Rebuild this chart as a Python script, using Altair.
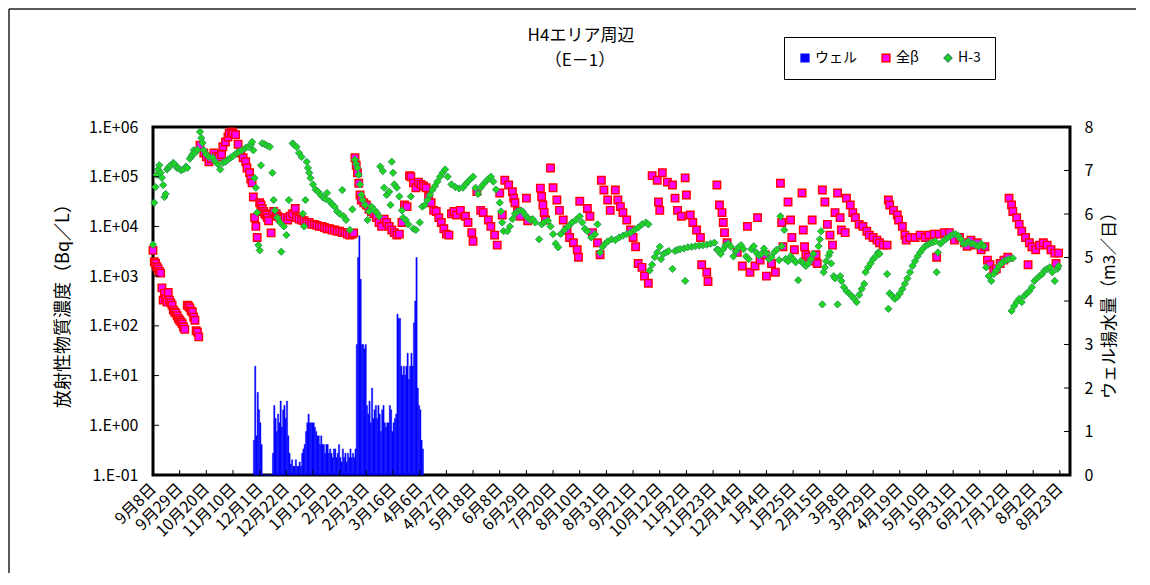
import altair as alt
import pandas as pd

START = pd.Timestamp("2013-09-08")

# (days after 2013-09-08, Bq/L)
beta_obs = [
    (0, 3300), (1, 1950), (2, 1800), (3, 1550), (4, 1400), (5, 1250), (6, 1150), (7, 580), (8, 330), (9, 450),
    (10, 360), (11, 300), (12, 470), (13, 330), (14, 290), (15, 260), (16, 210), (17, 190), (18, 180), (19, 160),
    (20, 140), (21, 130), (22, 120), (23, 110), (24, 95), (25, 85), (27, 260), (28, 250), (29, 230), (30, 200),
    (31, 190), (32, 150), (33, 130), (34, 80), (35, 75), (36, 60),
    (37, 4.3e5), (40, 3e5), (42, 2.5e5), (44, 2e5), (46, 2.3e5), (48, 3e5), (50, 2.6e5), (52, 2.5e5), (54, 2.8e5),
    (55, 4e5), (57, 5e5), (59, 6.3e5), (60, 7.5e5), (62, 8e5), (63, 7.5e5), (65, 7e5), (67, 4.5e5), (69, 3e5),
    (71, 2.4e5), (73, 2e5), (74, 1.5e5), (76, 1.2e5), (77, 9e4), (78, 7.5e4),
    (79, 3.9e4), (80, 1.5e4), (81, 1e4), (82, 6e3), (84, 3e4), (85, 2.7e4), (86, 2.3e4), (87, 2e4), (88, 1.8e4),
    (89, 1.7e4), (90, 1.5e4), (91, 1.3e4), (93, 7.4e3), (95, 2e4), (97, 1.8e4), (98, 1.6e4), (100, 1.5e4),
    (102, 1.4e4), (104, 1.5e4), (106, 1.35e4), (108, 1.6e4), (110, 1.8e4), (112, 2.3e4), (113, 1.5e4), (115, 1.4e4),
    (117, 1.35e4), (119, 1.3e4), (121, 1.2e4), (123, 1.2e4), (125, 1.1e4), (127, 1.1e4), (129, 1.05e4), (131, 1e4),
    (133, 1e4), (135, 9.5e3), (137, 9e3), (139, 9e3), (141, 8.5e3), (143, 8.5e3), (145, 8e3), (147, 8e3),
    (149, 7.5e3), (151, 7.5e3), (153, 7e3), (155, 6.7e3), (157, 7e3), (158, 7.4e3),
    (159, 2.4e5), (160, 1.7e5), (161, 1.2e5), (162, 7.4e4), (163, 4.3e4), (164, 3.4e4), (166, 3e4), (168, 2.7e4),
    (170, 2.2e4), (172, 2e4), (174, 1.8e4), (176, 1.5e4), (178, 1.2e4), (180, 1e4), (182, 1.4e4), (184, 1.2e4),
    (186, 1e4), (188, 8.5e3), (190, 7.5e3), (192, 6.7e3), (194, 7e3), (196, 1.2e4), (198, 2.7e4), (200, 2.5e4),
    (202, 1.05e5), (203, 1e5), (205, 7.5e4), (207, 6e4), (209, 7.8e4), (211, 7e4), (213, 6.5e4), (215, 6e4),
    (217, 4e4), (219, 3e4), (221, 2.1e4), (223, 2e4), (225, 1.5e4), (227, 1.2e4), (229, 9e3), (231, 7e3),
    (233, 6.7e3), (235, 1.8e4), (237, 2e4), (239, 1.7e4),
    (242, 2.1e4), (246, 1.6e4), (248, 1.2e4), (251, 7.5e3), (252, 5e3), (255, 5e4), (258, 2.1e4), (260, 1.9e4),
    (264, 1.35e4), (266, 1e4), (269, 6.7e3), (271, 4.2e3), (273, 4.7e4), (275, 1.7e4), (277, 8.5e4), (280, 6.8e4),
    (283, 5e4), (284, 3.7e4), (285, 3e4), (287, 2e4), (289, 1.6e4), (294, 3.7e4), (295, 1.3e4), (305, 5.9e4),
    (306, 4e4), (307, 2.7e4), (308, 1.9e4), (309, 1.35e4), (313, 1.5e5), (315, 6e4), (318, 3.4e4), (320, 2.1e4),
    (323, 1.35e4), (326, 8.5e3), (328, 6e3), (331, 4.7e3), (334, 3.4e3), (335, 2.4e3), (336, 3.2e4), (342, 2.3e4),
    (344, 1.6e4), (346, 7.5e3), (350, 4.7e3), (352, 2.7e3), (353, 8.5e4), (355, 5.4e4), (358, 3.4e4), (360, 2.1e4),
    (364, 5.4e4), (366, 3.4e4), (368, 2.5e4), (370, 1.9e4), (373, 1.35e4), (376, 8.5e3), (378, 6e3), (380, 3.9e3),
    (382, 1.8e3), (385, 1.5e3), (387, 1e3), (390, 720), (393, 1.05e5), (397, 8.5e4), (398, 3.1e4), (399, 2.1e4),
    (401, 1.2e5), (405, 7.8e4), (409, 6.8e4), (411, 3.7e4), (413, 2.1e4), (416, 1.6e4), (419, 9.5e4), (420, 4.3e4),
    (423, 1.7e4), (425, 1.2e4), (428, 8.5e3), (431, 6e3), (432, 1.7e3), (436, 1.2e3), (437, 780), (444, 6.8e4),
    (446, 2.7e4), (448, 1.9e4), (449, 1.2e4), (450, 7.5e3), (452, 4.7e3), (460, 3e3), (464, 1.6e3), (468, 1e4),
    (470, 1.2e3), (474, 1.6e3), (476, 1.5e4), (478, 2.1e3), (482, 2.7e3), (483, 1e3), (487, 1.8e3), (490, 1.2e3),
    (494, 7.4e4), (495, 1.2e4), (496, 3.9e3), (500, 3.1e4),
    (502, 1.35e4), (503, 6e3), (505, 3.4e3), (511, 4.7e4), (512, 8.5e3), (513, 3.9e3), (514, 2.7e3), (516, 2.4e3),
    (518, 2e3), (519, 1.35e4), (522, 2.7e3), (523, 1.8e3), (527, 5.4e4), (529, 3.1e4), (531, 1.1e4), (533, 6.7e3),
    (535, 4.2e3), (537, 1.9e4), (539, 4.7e4), (541, 1.5e4), (542, 8.5e3), (545, 7.5e3), (546, 3.7e4), (549, 2.7e4),
    (551, 1.9e4), (553, 1.5e4), (556, 1.1e4), (559, 1e4), (562, 8e3), (564, 6.7e3), (567, 6e3), (570, 5.3e3),
    (572, 4.7e3), (575, 4.2e3), (578, 4.2e3), (579, 3.4e4), (580, 2.7e4), (583, 2.1e4), (586, 1.7e4), (587, 1.35e4),
    (590, 1e4), (592, 6.7e3), (593, 5.3e3), (596, 6e3), (600, 6e3), (604, 6.7e3), (608, 6e3), (611, 6.7e3),
    (615, 7e3), (617, 2.4e3), (619, 7e3), (623, 7.5e3), (627, 7.5e3), (631, 5.3e3), (635, 6e3), (639, 4.7e3),
    (641, 4e3), (644, 5.3e3), (647, 4.2e3), (649, 4.7e3), (652, 3.4e3), (655, 3.9e3), (657, 2.1e3), (659, 1.7e3),
    (662, 1.3e3), (664, 1.4e3), (667, 1.8e3), (670, 2.1e3), (673, 2.4e3), (674, 3.7e4), (676, 2.7e4), (677, 2e4),
    (680, 1.5e4), (682, 1.1e4), (684, 8e3), (687, 6e3), (689, 1.7e3), (690, 4.7e3), (692, 3.9e3), (695, 3.4e3),
    (698, 4.2e3), (701, 4.7e3), (704, 4.2e3), (707, 3.4e3), (710, 2.9e3), (711, 1.8e3), (713, 2.9e3),
]

h3_obs = [
    (0, 4300), (1, 3e4), (2, 6.2e4), (3, 1.1e5), (4, 1.4e5), (5, 1.7e5), (6, 1.2e5), (7, 9.5e4), (8, 6.8e4),
    (9, 3.9e4), (10, 4.5e4), (11, 1.4e5), (12, 1.5e5), (13, 1.6e5), (14, 1.7e5), (16, 1.9e5), (17, 1.8e5),
    (19, 1.5e5), (20, 1.5e5), (22, 1.35e5), (24, 1.4e5), (26, 1.6e5), (27, 1.5e5), (29, 2.3e5), (30, 2.5e5),
    (31, 2.8e5), (32, 3.4e5), (33, 3e5), (35, 3.5e5), (37, 8e5), (38, 6e5), (39, 4.8e5), (40, 3.4e5), (42, 2.8e5),
    (44, 2.5e5), (47, 2.4e5), (49, 2e5), (51, 1.8e5), (53, 1.4e5), (55, 1.9e5), (57, 2e5), (59, 2.2e5), (61, 2.4e5),
    (63, 2.6e5), (66, 3e5), (68, 3.2e5), (70, 3.4e5), (73, 3.8e5), (75, 4e5), (77, 4.4e5), (78, 5e5), (79, 3.4e5),
    (80, 9.4e4), (81, 6e4), (82, 1.9e4), (83, 4.2e3), (84, 3.3e3), (85, 1.7e5), (86, 4.7e5), (88, 4.5e5),
    (90, 4.2e5), (92, 4e5), (94, 1.2e5), (95, 3.4e4), (96, 2.1e4), (98, 1.5e4), (100, 1.2e4), (101, 3.1e3),
    (103, 1e4), (105, 6.7e3), (107, 3.4e4), (110, 4.7e5), (111, 4.4e5), (113, 4e5), (115, 3e5), (117, 2.5e5),
    (118, 1.8e4), (119, 1e4), (120, 3.4e4), (121, 2e5), (122, 1.5e5), (123, 1.2e5), (124, 9.4e4), (126, 7e4),
    (128, 5.5e4), (130, 5e4), (132, 4.3e4), (134, 3.8e4), (136, 3.6e4), (137, 4.7e4), (139, 3.2e4), (141, 2.8e4),
    (143, 2.5e4), (145, 2e4), (147, 1.8e4), (149, 5.4e4), (150, 1.6e4), (152, 1.35e4), (155, 8.5e3), (157, 2.2e4),
    (159, 2.2e5), (160, 1.8e5), (161, 1.5e5), (162, 1.1e5), (163, 7e4), (164, 4.3e4), (165, 3.4e4), (167, 2.7e4),
    (169, 1.35e4), (170, 2e4), (172, 2.5e4), (174, 2.2e4), (176, 1.9e4), (178, 1.6e4), (179, 1.6e5), (181, 1.3e5),
    (182, 6e4), (184, 4.3e4), (186, 5e4), (187, 2.7e4), (188, 2e5), (189, 1.2e5), (190, 7e4), (192, 6e4),
    (194, 4e4), (196, 2.1e4), (197, 1.5e4), (199, 1.35e4), (201, 1.1e4), (203, 4e4), (205, 9e3), (207, 8.5e3),
    (210, 1.2e4), (212, 2.5e4), (214, 2.7e4), (216, 3.4e4), (218, 4.3e4), (220, 5.4e4), (222, 6.5e4), (224, 8e4),
    (226, 1e5), (228, 1.2e5), (230, 1.4e5), (232, 1e5), (235, 7e4), (238, 6.2e4), (241, 5.8e4), (244, 6e4),
    (246, 7e4), (248, 8e4), (250, 9e4), (252, 1e5), (254, 6e4), (256, 4.5e4), (258, 6e4), (260, 7e4), (262, 8e4),
    (264, 9e4), (266, 1e5), (268, 8e4), (270, 5.5e4), (273, 3e4), (274, 2e4), (275, 1.2e4), (276, 8e3), (279, 8e3),
    (281, 1e4), (283, 1.4e4), (285, 1.8e4), (287, 2e4), (289, 2.1e4), (291, 2e4), (293, 1.7e4), (295, 1.5e4),
    (297, 1.35e4), (299, 1.4e4), (301, 1.2e4), (304, 5.5e3), (306, 1.1e4), (308, 1.2e4), (311, 1.3e4), (313, 1e4),
    (315, 7e3), (317, 4.5e3), (319, 3.8e3), (321, 7e3), (324, 8.5e3), (327, 1e4), (330, 1.2e4), (333, 1.35e4),
    (336, 1.6e4), (338, 1.2e4), (340, 9e3), (342, 8e3), (345, 6e3), (348, 7e3), (350, 1.1e4), (352, 3e3),
    (354, 3.9e3), (356, 4.5e3), (358, 5e3), (361, 5.5e3), (364, 5.3e3), (367, 6e3), (370, 6.5e3), (373, 7e3),
    (376, 7.5e3), (379, 8.5e3), (382, 9.5e3), (385, 1.1e4), (388, 1.2e4), (390, 1.1e4), (391, 1.3e3), (393, 1.7e3),
    (395, 2.4e3), (397, 3e3), (399, 3.9e3), (400, 2.2e3), (402, 2.8e3), (404, 3e3), (406, 3.2e3), (409, 1.4e3),
    (411, 3.2e3), (413, 3.4e3), (415, 3.5e3), (418, 3.6e3), (419, 800), (421, 3.8e3), (424, 3.9e3), (427, 4e3),
    (430, 4.1e3), (433, 4.2e3), (436, 4.3e3), (439, 4.5e3), (442, 4.7e3), (444, 3.4e3), (445, 3.4e3), (447, 2.8e3),
    (449, 3.5e3), (451, 4.2e3), (453, 4.5e3), (455, 3.9e3), (457, 2.5e3), (459, 3.2e3), (461, 3.8e3), (463, 4.2e3),
    (465, 3.5e3), (467, 2.5e3), (469, 2.2e3), (471, 3.5e3), (473, 4e3), (475, 3e3), (477, 2.6e3), (479, 2.8e3),
    (481, 3.6e3), (483, 2.9e3), (485, 2.2e3), (487, 2.4e3), (489, 3e3), (491, 3.4e3), (493, 2.1e3), (494, 1.6e4),
    (495, 4e3), (497, 8.5e3), (498, 2.2e3), (500, 2e3), (502, 2.5e3), (504, 2.2e3), (506, 1.9e3), (508, 830),
    (510, 2e3), (512, 1.8e3), (514, 1.6e3), (516, 1.8e3), (518, 2.2e3), (520, 2.8e3), (524, 4e3), (525, 5.5e3),
    (526, 8e3), (527, 270), (528, 1.2e3), (529, 1.5e3), (530, 2e3), (532, 2.6e3), (533, 3e3), (534, 1.8e3),
    (536, 1e3), (537, 900), (539, 270), (541, 1e3), (542, 800), (544, 600), (546, 500), (548, 450), (550, 400),
    (552, 350), (554, 300), (556, 420), (558, 550), (560, 700), (561, 1.2e3), (563, 1.5e3), (565, 1.8e3),
    (567, 2.2e3), (569, 2.5e3), (571, 3e3), (572, 2.8e3), (578, 1.1e3), (579, 220), (580, 450), (582, 400),
    (584, 350), (586, 380), (588, 450), (590, 550), (592, 700), (594, 900), (596, 1.2e3), (598, 1.6e3), (600, 2e3),
    (602, 2.5e3), (604, 3e3), (606, 3.5e3), (608, 4e3), (610, 4.3e3), (612, 4.6e3), (614, 4.8e3), (616, 5e3),
    (617, 1.2e3), (618, 3e3), (620, 4.5e3), (622, 5e3), (624, 5.5e3), (626, 6e3), (628, 6.5e3), (630, 7e3),
    (632, 7e3), (634, 6.5e3), (636, 5.5e3), (638, 4.5e3), (640, 4.5e3), (642, 5e3), (644, 4.5e3), (646, 4.5e3),
    (648, 4.2e3), (650, 4e3), (652, 4.5e3), (654, 4e3), (656, 1.5e3), (658, 1e3), (660, 800), (662, 1.1e3),
    (664, 1.3e3), (666, 1.6e3), (668, 1.8e3), (670, 2e3), (672, 2.1e3), (674, 2.2e3), (676, 200), (677, 2.3e3),
    (678, 250), (680, 300), (682, 350), (684, 300), (686, 400), (688, 450), (690, 500), (692, 600), (694, 800),
    (696, 900), (698, 1e3), (700, 1.1e3), (702, 1.3e3), (704, 1.4e3), (706, 1.5e3), (708, 1.2e3), (710, 800),
    (712, 1.4e3), (713, 1.6e3),
]

# daily well pumping volume (m3/day), one value per day from 2013-11-26
well_first_date = "2013-11-26"
well_val = [
    0.8, 2.5, 0.9, 1.9, 1.5, 1.2, 0.7, 0, 0, 0, 0, 0, 0, 0, 0, 0.5, 1.6, 1.3, 1.0, 1.4, 1.2, 1.7, 1.1, 1.5, 1.6,
    1.3, 1.7, 0.9, 0.5, 0.25, 0.35, 0.2, 0.2, 0.35, 0.2, 0.2, 0.3, 0.2, 0.5, 0.6, 0.7, 1.0, 1.2, 1.4, 1.2, 1.2,
    1.2, 1.2, 1.1, 1.0, 0.9, 0.9, 0.7, 0.9, 0.7, 0.7, 0.5, 0.7, 0.7, 0.5, 0.6, 0.5, 0.4, 0.6, 0.6, 0.4, 0.5, 0.7,
    0.4, 0.3, 0.6, 0.4, 0.5, 0.3, 0.5, 0.4, 0.6, 0.4, 0.5, 0.4, 0.6, 3.0, 5.0, 5.5, 4.5, 3.0, 3.0, 2.9, 3.0, 1.6,
    1.4, 1.7, 1.2, 2.0, 1.3, 1.5, 1.6, 1.3, 1.6, 1.4, 1.0, 1.5, 1.6, 1.2, 1.1, 1.2, 1.2, 1.6, 1.5, 1.0, 1.2, 1.3,
    1.4, 3.7, 3.6, 3.6, 2.5, 2.3, 2.5, 2.3, 2.5, 2.8, 2.2, 2.5, 2.8, 2.5, 3.5, 4.0, 5.0, 2.0, 1.6, 1.5, 0.8, 0.6,
]

x_tick_dates = [
    "2013-09-08", "2013-09-29", "2013-10-20", "2013-11-10", "2013-12-01", "2013-12-22", "2014-01-12",
    "2014-02-02", "2014-02-23", "2014-03-16", "2014-04-06", "2014-04-27", "2014-05-18", "2014-06-08",
    "2014-06-29", "2014-07-20", "2014-08-10", "2014-08-31", "2014-09-21", "2014-10-12", "2014-11-02",
    "2014-11-23", "2014-12-14", "2015-01-04", "2015-01-25", "2015-02-15", "2015-03-08", "2015-03-29",
    "2015-04-19", "2015-05-10", "2015-05-31", "2015-06-21", "2015-07-12", "2015-08-02", "2015-08-23",
]
x_domain = ["2013-09-08", "2015-08-31"]
left_ticks = [0.1, 1, 10, 100, 1e3, 1e4, 1e5, 1e6]
right_ticks = [0, 1, 2, 3, 4, 5, 6, 7, 8]

title_lines = ["H4エリア周辺", "（E－1）"]
series_names = ["ウェル", "全β", "H-3"]
series_fill = ["#0000FF", "#FF00FF", "#1ED61E"]
series_stroke = ["#0000FF", "#FF0000", "#2E9A5C"]
series_shape = ["square", "square", "diamond"]

FONT = "Noto Sans CJK JP"
W, H = 917, 348
PAD_R = 66


def ms(d):
    return int(pd.Timestamp(d, tz="UTC").timestamp() * 1000)


def day_str(d):
    return (START + pd.Timedelta(days=d)).strftime("%Y-%m-%d")


beta_df = pd.DataFrame({"date": [day_str(d) for d, _ in beta_obs],
                        "value": [v for _, v in beta_obs], "series": "全β"})
h3_df = pd.DataFrame({"date": [day_str(d) for d, _ in h3_obs],
                      "value": [v for _, v in h3_obs], "series": "H-3"})
wdates = [pd.Timestamp(well_first_date) + pd.Timedelta(days=i) for i in range(len(well_val))]
well_df = pd.DataFrame({"date": [d.strftime("%Y-%m-%d") for d in wdates],
                        "date2": [(d + pd.Timedelta(days=1)).strftime("%Y-%m-%d") for d in wdates],
                        "value": well_val, "series": "ウェル"})
xt_df = pd.DataFrame({"date": x_tick_dates})
lt_df = pd.DataFrame({"value": left_ticks})
rt_df = pd.DataFrame({"value": right_ticks})
one_df = pd.DataFrame({"k": [0]})

xscale = alt.Scale(type="utc", domain=[ms(x_domain[0]), ms(x_domain[1])], nice=False)


def lscale():
    return alt.Scale(type="log", domain=[0.1, 1e6], nice=False)


def rscale():
    return alt.Scale(type="linear", domain=[0, 8], nice=False)


legend = alt.Legend(
    title=None, orient="none", legendX=631, legendY=-90, direction="horizontal", columns=3,
    strokeColor="black", fillColor="white", padding=14, columnPadding=22, labelOffset=3,
    labelFont=FONT, labelFontSize=14, labelColor="black", symbolSize=60, symbolStrokeWidth=1.5,
)
fill_enc = alt.Fill("series:N", scale=alt.Scale(domain=series_names, range=series_fill), legend=legend)
stroke_enc = alt.Stroke("series:N", scale=alt.Scale(domain=series_names, range=series_stroke), legend=legend)
shape_enc = alt.Shape("series:N", scale=alt.Scale(domain=series_names, range=series_shape), legend=legend)

x_axis = alt.Axis(
    values=[ms(d) for d in x_tick_dates], grid=False, ticks=False, domain=False,
    labelExpr="(utcmonth(datum.value)+1) + '月' + utcdate(datum.value) + '日'",
    labelAngle=315, labelAlign="right", labelBaseline="middle", labelPadding=11,
    labelFont=FONT, labelFontSize=16, labelColor="black", labelOverlap=False,
    title=None,
)
left_axis = alt.Axis(
    orient="left", values=left_ticks, grid=False, ticks=False, domain=False,
    labelExpr="'1.E' + (datum.value >= 1 ? '+' : '-') + '0' + abs(round(log(datum.value)/LN10))",
    labelFont=FONT, labelFontSize=16, labelColor="black", labelPadding=15,
    title="放射性物質濃度（Bq／L）", titleFont=FONT, titleFontSize=18, titleFontWeight="normal",
    titleColor="black", titlePadding=16,
)
right_axis = alt.Axis(
    orient="right", values=right_ticks, grid=False, ticks=False, domain=False, format="d",
    labelFont=FONT, labelFontSize=16, labelColor="black", labelPadding=14,
    title="ウェル揚水量（m3／日）", titleFont=FONT, titleFontSize=17, titleFontWeight="normal",
    titleColor="black", titlePadding=9, titleAngle=270, titleBaseline="top",
)

frame_v = alt.Chart(one_df).mark_rule(color="#222222", strokeWidth=1.5).encode(
    x=alt.value(-144), y=alt.value(-118), y2=alt.value(H + 98),
)
frame_h = alt.Chart(one_df).mark_rule(color="#222222", strokeWidth=1.5).encode(
    x=alt.value(-144), x2=alt.value(W + PAD_R), y=alt.value(-118),
)
t1 = alt.Chart(one_df).mark_text(text=title_lines[0], font=FONT, fontSize=17, color="black",
                                 align="center", baseline="middle").encode(
    x=alt.value(428), y=alt.value(-91))
t2 = alt.Chart(one_df).mark_text(text=title_lines[1], font=FONT, fontSize=17, color="black",
                                 align="center", baseline="middle").encode(
    x=alt.value(427), y=alt.value(-66))

bars = alt.Chart(well_df).mark_bar(strokeWidth=0.4).encode(
    x=alt.X("date:T", scale=xscale, axis=x_axis),
    x2="date2:T",
    y=alt.Y("value:Q", scale=rscale(), axis=right_axis),
    y2=alt.datum(0),
    fill=fill_enc, stroke=stroke_enc,
)
beta = alt.Chart(beta_df).mark_point(size=56, strokeWidth=1.4, opacity=1, fillOpacity=1).encode(
    x=alt.X("date:T", scale=xscale, axis=x_axis),
    y=alt.Y("value:Q", scale=lscale(), axis=left_axis),
    fill=fill_enc, stroke=stroke_enc, shape=shape_enc,
)
h3 = alt.Chart(h3_df).mark_point(size=52, strokeWidth=1, opacity=1, fillOpacity=1).encode(
    x=alt.X("date:T", scale=xscale, axis=x_axis),
    y=alt.Y("value:Q", scale=lscale(), axis=None),
    fill=fill_enc, stroke=stroke_enc, shape=shape_enc,
)
xticks = alt.Chart(xt_df).mark_rule(color="black", strokeWidth=1).encode(
    x=alt.X("date:T", scale=xscale, axis=x_axis), y=alt.value(H - 5), y2=alt.value(H),
)
lticks = alt.Chart(lt_df).mark_rule(color="black", strokeWidth=1).encode(
    y=alt.Y("value:Q", scale=lscale(), axis=None), x=alt.value(0), x2=alt.value(6),
)
rticks = alt.Chart(rt_df).mark_rule(color="black", strokeWidth=1).encode(
    y=alt.Y("value:Q", scale=rscale(), axis=None), x=alt.value(W - 6), x2=alt.value(W),
)

chart = alt.layer(
    frame_v, frame_h, t1, t2, bars, beta, h3, xticks, lticks, rticks
).resolve_scale(y="independent").properties(
    width=W, height=H,
    autosize=alt.AutoSizeParams(type="none"),
    padding={"left": 145, "top": 119, "right": PAD_R, "bottom": 98},
    background="white",
).configure_view(stroke="black", strokeWidth=3)

chart.save("out.html", embed_options={"renderer": "svg", "actions": False})
